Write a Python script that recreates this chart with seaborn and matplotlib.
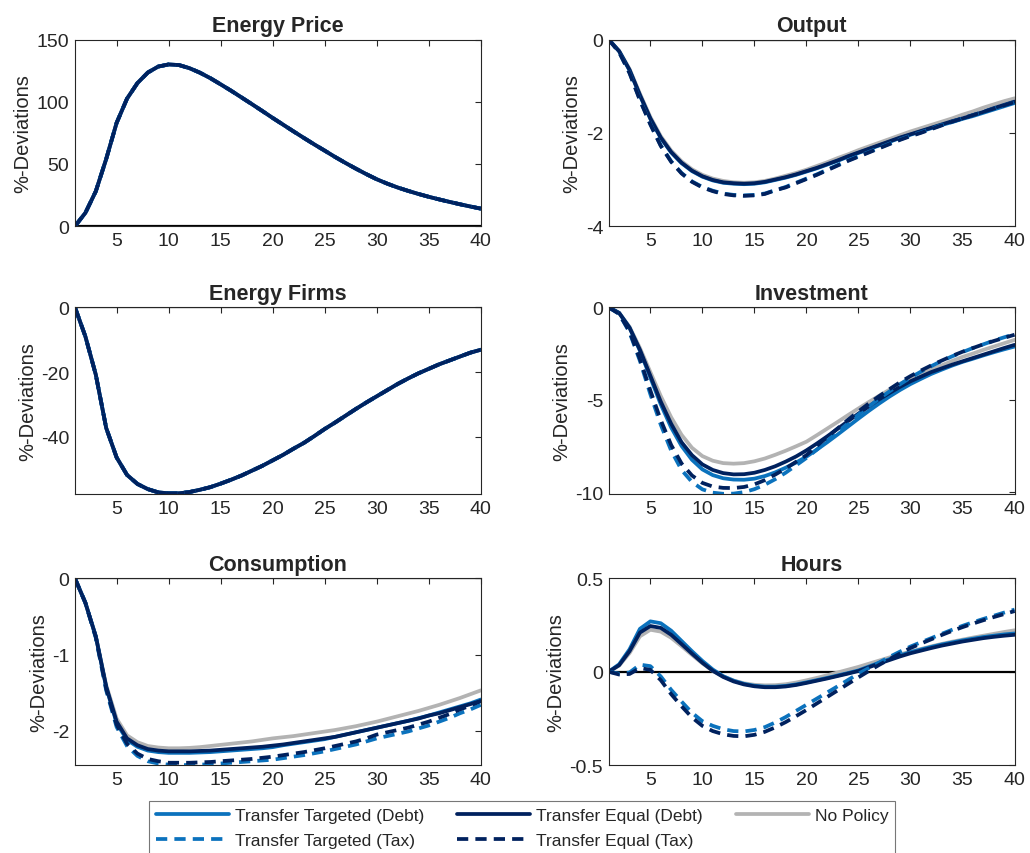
import numpy as np
import pandas as pd
import seaborn as sns
import matplotlib.pyplot as plt
from matplotlib.ticker import FormatStrFormatter

# horizon
periods = list(range(1, 41))

series_names = ["Transfer Targeted (Debt)", "Transfer Equal (Debt)", "No Policy",
                "Transfer Targeted (Tax)", "Transfer Equal (Tax)"]

# Energy price / energy firms: identical across scenarios
energy_price = [0, 10.7, 28, 54, 83, 102.5, 115, 123.5, 128.3, 130, 129.5, 127, 123.4, 119,
                114, 108.9, 103.5, 98.1, 92.6, 87, 81.6, 76.2, 70.9, 65.7, 60.7, 55.6, 50.8,
                46.2, 41.8, 37.7, 34.2, 31.1, 28.4, 25.9, 23.6, 21.5, 19.5, 17.6, 15.8, 14.1]
energy_firms = [0, -9, -20.8, -37.3, -46.4, -51.8, -54.6, -56.2, -57.2, -57.5, -57.5, -57.1,
                -56.4, -55.6, -54.5, -53.3, -52, -50.5, -49, -47.3, -45.6, -43.7, -41.9,
                -39.8, -37.6, -35.6, -33.5, -31.4, -29.4, -27.5, -25.6, -23.7, -22, -20.4,
                -19, -17.6, -16.4, -15.2, -14, -13.1]

# Output
out_ttd = [0, -0.25, -0.66, -1.2, -1.7, -2.11, -2.42, -2.65, -2.82, -2.94, -3.02, -3.07,
           -3.09, -3.1, -3.09, -3.06, -3.01, -2.96, -2.9, -2.83, -2.76, -2.68, -2.6, -2.51,
           -2.43, -2.35, -2.27, -2.19, -2.11, -2.04, -1.97, -1.9, -1.83, -1.77, -1.7, -1.64,
           -1.57, -1.5, -1.43, -1.36]
out_ted = [0, -0.25, -0.65, -1.19, -1.69, -2.1, -2.41, -2.64, -2.81, -2.93, -3.01, -3.06,
           -3.08, -3.09, -3.08, -3.05, -3.0, -2.95, -2.89, -2.82, -2.75, -2.67, -2.59, -2.5,
           -2.42, -2.34, -2.26, -2.18, -2.1, -2.03, -1.96, -1.89, -1.82, -1.75, -1.69, -1.62,
           -1.55, -1.47, -1.4, -1.33]
out_np = [0, -0.24, -0.63, -1.16, -1.66, -2.07, -2.38, -2.61, -2.78, -2.9, -2.98, -3.03,
          -3.06, -3.07, -3.06, -3.03, -2.98, -2.92, -2.86, -2.79, -2.71, -2.63, -2.54, -2.46,
          -2.37, -2.29, -2.21, -2.13, -2.05, -1.97, -1.9, -1.83, -1.76, -1.69, -1.61, -1.54,
          -1.46, -1.39, -1.32, -1.26]
out_ttt = [0, -0.27, -0.71, -1.29, -1.81, -2.27, -2.61, -2.86, -3.04, -3.16, -3.24, -3.3,
           -3.33, -3.34, -3.33, -3.3, -3.23, -3.16, -3.07, -2.98, -2.89, -2.79, -2.69, -2.59,
           -2.5, -2.41, -2.32, -2.23, -2.14, -2.06, -1.99, -1.91, -1.83, -1.76, -1.69, -1.62,
           -1.55, -1.48, -1.41, -1.34]
out_tet = [0, -0.27, -0.72, -1.3, -1.82, -2.28, -2.62, -2.87, -3.05, -3.17, -3.25, -3.31,
           -3.34, -3.35, -3.34, -3.31, -3.23, -3.17, -3.08, -2.99, -2.9, -2.8, -2.7, -2.6,
           -2.51, -2.42, -2.33, -2.24, -2.15, -2.07, -2.0, -1.92, -1.84, -1.76, -1.69, -1.62,
           -1.55, -1.48, -1.41, -1.34]

# Investment
inv_ttd = [0, -0.3, -1.1, -2.35, -3.8, -5.25, -6.5, -7.5, -8.25, -8.77, -9.08, -9.25, -9.32,
           -9.33, -9.27, -9.13, -8.93, -8.68, -8.4, -8.08, -7.7, -7.3, -6.88, -6.45, -6.02,
           -5.6, -5.2, -4.82, -4.47, -4.15, -3.87, -3.6, -3.37, -3.15, -2.95, -2.78, -2.6,
           -2.43, -2.27, -2.12]
inv_ted = [0, -0.3, -1.1, -2.3, -3.7, -5.1, -6.3, -7.3, -8.0, -8.5, -8.8, -8.97, -9.04,
           -9.03, -8.95, -8.8, -8.6, -8.35, -8.07, -7.74, -7.37, -6.98, -6.57, -6.16, -5.75,
           -5.36, -4.98, -4.63, -4.3, -4.0, -3.75, -3.5, -3.3, -3.1, -2.92, -2.74, -2.56,
           -2.38, -2.2, -2.03]
inv_np = [0, -0.3, -1.05, -2.2, -3.5, -4.8, -5.95, -6.9, -7.6, -8.05, -8.3, -8.43, -8.46,
          -8.43, -8.33, -8.18, -7.98, -7.76, -7.52, -7.27, -6.92, -6.56, -6.2, -5.83, -5.47,
          -5.12, -4.78, -4.45, -4.14, -3.85, -3.6, -3.36, -3.14, -2.9, -2.68, -2.5, -2.3,
          -2.12, -1.94, -1.76]
inv_ttt = [0, -0.35, -1.35, -2.9, -4.7, -6.35, -7.75, -8.8, -9.45, -9.85, -10.03, -10.09,
           -10.08, -10.0, -9.84, -9.6, -9.3, -8.95, -8.55, -8.15, -7.7, -7.22, -6.75, -6.27,
           -5.8, -5.36, -4.94, -4.54, -4.16, -3.8, -3.48, -3.18, -2.9, -2.65, -2.42, -2.2,
           -2.0, -1.8, -1.62, -1.45]
inv_tet = [0, -0.35, -1.3, -2.8, -4.5, -6.1, -7.45, -8.45, -9.1, -9.5, -9.7, -9.77, -9.78,
           -9.72, -9.58, -9.35, -9.05, -8.72, -8.36, -8.0, -7.5, -7.02, -6.55, -6.08, -5.63,
           -5.2, -4.8, -4.42, -4.05, -3.72, -3.42, -3.14, -2.88, -2.63, -2.4, -2.2, -2.0,
           -1.82, -1.65, -1.48]

# Consumption
con_ttd = [0, -0.32, -0.76, -1.43, -1.9, -2.12, -2.21, -2.26, -2.28, -2.29, -2.29, -2.29,
           -2.285, -2.28, -2.27, -2.26, -2.25, -2.24, -2.23, -2.215, -2.19, -2.17, -2.15,
           -2.13, -2.11, -2.08, -2.05, -2.02, -1.99, -1.96, -1.93, -1.9, -1.87, -1.835,
           -1.8, -1.76, -1.72, -1.68, -1.64, -1.59]
con_ted = [0, -0.32, -0.76, -1.42, -1.88, -2.1, -2.19, -2.24, -2.26, -2.27, -2.27, -2.27,
           -2.265, -2.26, -2.25, -2.24, -2.23, -2.22, -2.21, -2.195, -2.18, -2.16, -2.14,
           -2.12, -2.1, -2.08, -2.05, -2.02, -1.99, -1.96, -1.93, -1.9, -1.87, -1.84, -1.8,
           -1.77, -1.73, -1.69, -1.65, -1.61]
con_np = [0, -0.32, -0.76, -1.4, -1.84, -2.06, -2.15, -2.2, -2.22, -2.23, -2.23, -2.225,
          -2.215, -2.2, -2.185, -2.17, -2.155, -2.14, -2.12, -2.1, -2.085, -2.07, -2.05,
          -2.03, -2.01, -1.99, -1.965, -1.94, -1.91, -1.88, -1.845, -1.81, -1.775, -1.74,
          -1.7, -1.66, -1.615, -1.57, -1.52, -1.47]
con_ttt = [0, -0.32, -0.78, -1.47, -1.95, -2.2, -2.33, -2.4, -2.43, -2.445, -2.45, -2.45,
           -2.445, -2.44, -2.43, -2.42, -2.41, -2.4, -2.39, -2.38, -2.36, -2.34, -2.32,
           -2.295, -2.27, -2.24, -2.21, -2.18, -2.14, -2.1, -2.07, -2.04, -2.01, -1.97,
           -1.93, -1.88, -1.83, -1.77, -1.72, -1.66]
con_tet = [0, -0.32, -0.77, -1.45, -1.92, -2.17, -2.3, -2.37, -2.4, -2.42, -2.42, -2.42,
           -2.415, -2.41, -2.4, -2.39, -2.38, -2.37, -2.355, -2.34, -2.32, -2.3, -2.28,
           -2.255, -2.23, -2.2, -2.17, -2.14, -2.1, -2.05, -2.02, -1.99, -1.96, -1.92,
           -1.88, -1.83, -1.78, -1.72, -1.67, -1.61]

# Hours
hrs_ttd = [0, 0.04, 0.12, 0.23, 0.27, 0.26, 0.22, 0.165, 0.11, 0.058, 0.012, -0.024,
           -0.048, -0.065, -0.075, -0.08, -0.08, -0.076, -0.068, -0.057, -0.045, -0.033,
           -0.02, -0.007, 0.007, 0.028, 0.048, 0.068, 0.087, 0.105, 0.119, 0.133, 0.146,
           0.157, 0.168, 0.177, 0.186, 0.193, 0.2, 0.205]
hrs_ted = [0, 0.035, 0.11, 0.21, 0.245, 0.235, 0.198, 0.148, 0.097, 0.048, 0.005, -0.028,
           -0.052, -0.068, -0.078, -0.083, -0.083, -0.079, -0.071, -0.06, -0.048, -0.036,
           -0.023, -0.01, 0.004, 0.024, 0.044, 0.063, 0.082, 0.099, 0.113, 0.127, 0.14,
           0.151, 0.162, 0.171, 0.18, 0.187, 0.193, 0.198]
hrs_np = [0, 0.033, 0.1, 0.19, 0.225, 0.215, 0.182, 0.137, 0.09, 0.045, 0.005, -0.025,
          -0.047, -0.062, -0.07, -0.073, -0.072, -0.067, -0.058, -0.046, -0.033, -0.019,
          -0.004, 0.011, 0.026, 0.043, 0.06, 0.077, 0.093, 0.108, 0.122, 0.136, 0.149,
          0.161, 0.172, 0.183, 0.193, 0.203, 0.213, 0.222]
hrs_ttt = [0, -0.01, -0.004, 0.038, 0.03, -0.025, -0.097, -0.16, -0.22, -0.265, -0.29,
           -0.308, -0.318, -0.32, -0.312, -0.297, -0.272, -0.243, -0.21, -0.177, -0.144,
           -0.111, -0.078, -0.044, -0.01, 0.02, 0.05, 0.08, 0.108, 0.135, 0.158, 0.18, 0.203,
           0.225, 0.246, 0.265, 0.283, 0.3, 0.317, 0.333]
hrs_tet = [0, -0.015, -0.012, 0.02, 0.01, -0.045, -0.12, -0.185, -0.245, -0.29, -0.318,
           -0.335, -0.344, -0.346, -0.338, -0.322, -0.298, -0.27, -0.238, -0.205, -0.17,
           -0.135, -0.1, -0.065, -0.03, 0.004, 0.037, 0.068, 0.098, 0.127, 0.151, 0.174,
           0.197, 0.219, 0.239, 0.258, 0.276, 0.293, 0.309, 0.325]

panels = [
    ("Energy Price", [energy_price] * 5, (0, 150), [0, 50, 100, 150]),
    ("Output", [out_ttd, out_ted, out_np, out_ttt, out_tet], (-4, 0), [-4, -2, 0]),
    ("Energy Firms", [energy_firms] * 5, (-57.7, 0), [-40, -20, 0]),
    ("Investment", [inv_ttd, inv_ted, inv_np, inv_ttt, inv_tet], (-10.1, 0), [-10, -5, 0]),
    ("Consumption", [con_ttd, con_ted, con_np, con_ttt, con_tet], (-2.45, 0), [-2, -1, 0]),
    ("Hours", [hrs_ttd, hrs_ted, hrs_np, hrs_ttt, hrs_tet], (-0.5, 0.5), [-0.5, 0, 0.5]),
]

light_blue = "#0b72bd"
navy = "#00215e"
grey = "#b3b3b3"
styles = {
    "Transfer Targeted (Debt)": (light_blue, "-"),
    "Transfer Equal (Debt)": (navy, "-"),
    "No Policy": (grey, "-"),
    "Transfer Targeted (Tax)": (light_blue, "--"),
    "Transfer Equal (Tax)": (navy, "--"),
}
draw_order = ["No Policy", "Transfer Targeted (Debt)", "Transfer Equal (Debt)",
              "Transfer Targeted (Tax)", "Transfer Equal (Tax)"]

sns.set_theme(style="white")
plt.rcParams["font.family"] = ["Liberation Sans", "DejaVu Sans"]
axcol = "#262626"
plt.rcParams.update({
    "axes.edgecolor": axcol, "xtick.color": axcol, "ytick.color": axcol,
    "axes.labelcolor": axcol, "xtick.direction": "in", "ytick.direction": "in",
    "axes.unicode_minus": False,
})

fig = plt.figure(figsize=(10.3, 8.54), dpi=100)
lefts = [0.0728, 0.591]
bottoms = [0.734, 0.4204, 0.103]
handles = {}
for i, (title, data, ylim, yticks) in enumerate(panels):
    row, col = divmod(i, 2)
    ax = fig.add_axes([lefts[col], bottoms[row], 0.394, 0.2185])
    df = pd.DataFrame({name: vals for name, vals in zip(series_names, data)})
    df["t"] = periods
    for name in draw_order:
        color, ls = styles[name]
        sns.lineplot(data=df, x="t", y=name, ax=ax, color=color, linewidth=2.7,
                     linestyle=ls, label=name, legend=False)
        line = ax.get_lines()[-1]
        if ls == "--":
            line.set_dashes((3.0, 1.9))
        handles[name] = line
    ax.axhline(0, color="black", linewidth=1.6, zorder=1)
    ax.set_xlim(1, 40)
    ax.set_ylim(*ylim)
    ax.set_xticks(range(5, 41, 5))
    ax.set_yticks(yticks)
    ax.yaxis.set_major_formatter(FormatStrFormatter("%g"))
    ax.set_xlabel("")
    ax.set_ylabel("%-Deviations", fontsize=14.5, labelpad=3)
    ax.set_title(title, fontsize=15.5, fontweight="bold", pad=6)
    ax.tick_params(labelsize=14, top=True, right=True, length=4, width=0.8, pad=4)
    for s in ax.spines.values():
        s.set_linewidth(0.8)

legend_order = ["Transfer Targeted (Debt)", "Transfer Targeted (Tax)",
                "Transfer Equal (Debt)", "Transfer Equal (Tax)", "No Policy"]
leg = fig.legend([handles[n] for n in legend_order], legend_order, ncol=3,
                 loc="center", bbox_to_anchor=(0.507, 0.029), fontsize=12.5,
                 frameon=True, fancybox=False, handlelength=4.2, handletextpad=0.35,
                 columnspacing=1.9, labelspacing=0.55, borderpad=0.4)
leg.get_frame().set_edgecolor("#555555")
leg.get_frame().set_linewidth(0.8)

fig.savefig("out.png", dpi=100)
